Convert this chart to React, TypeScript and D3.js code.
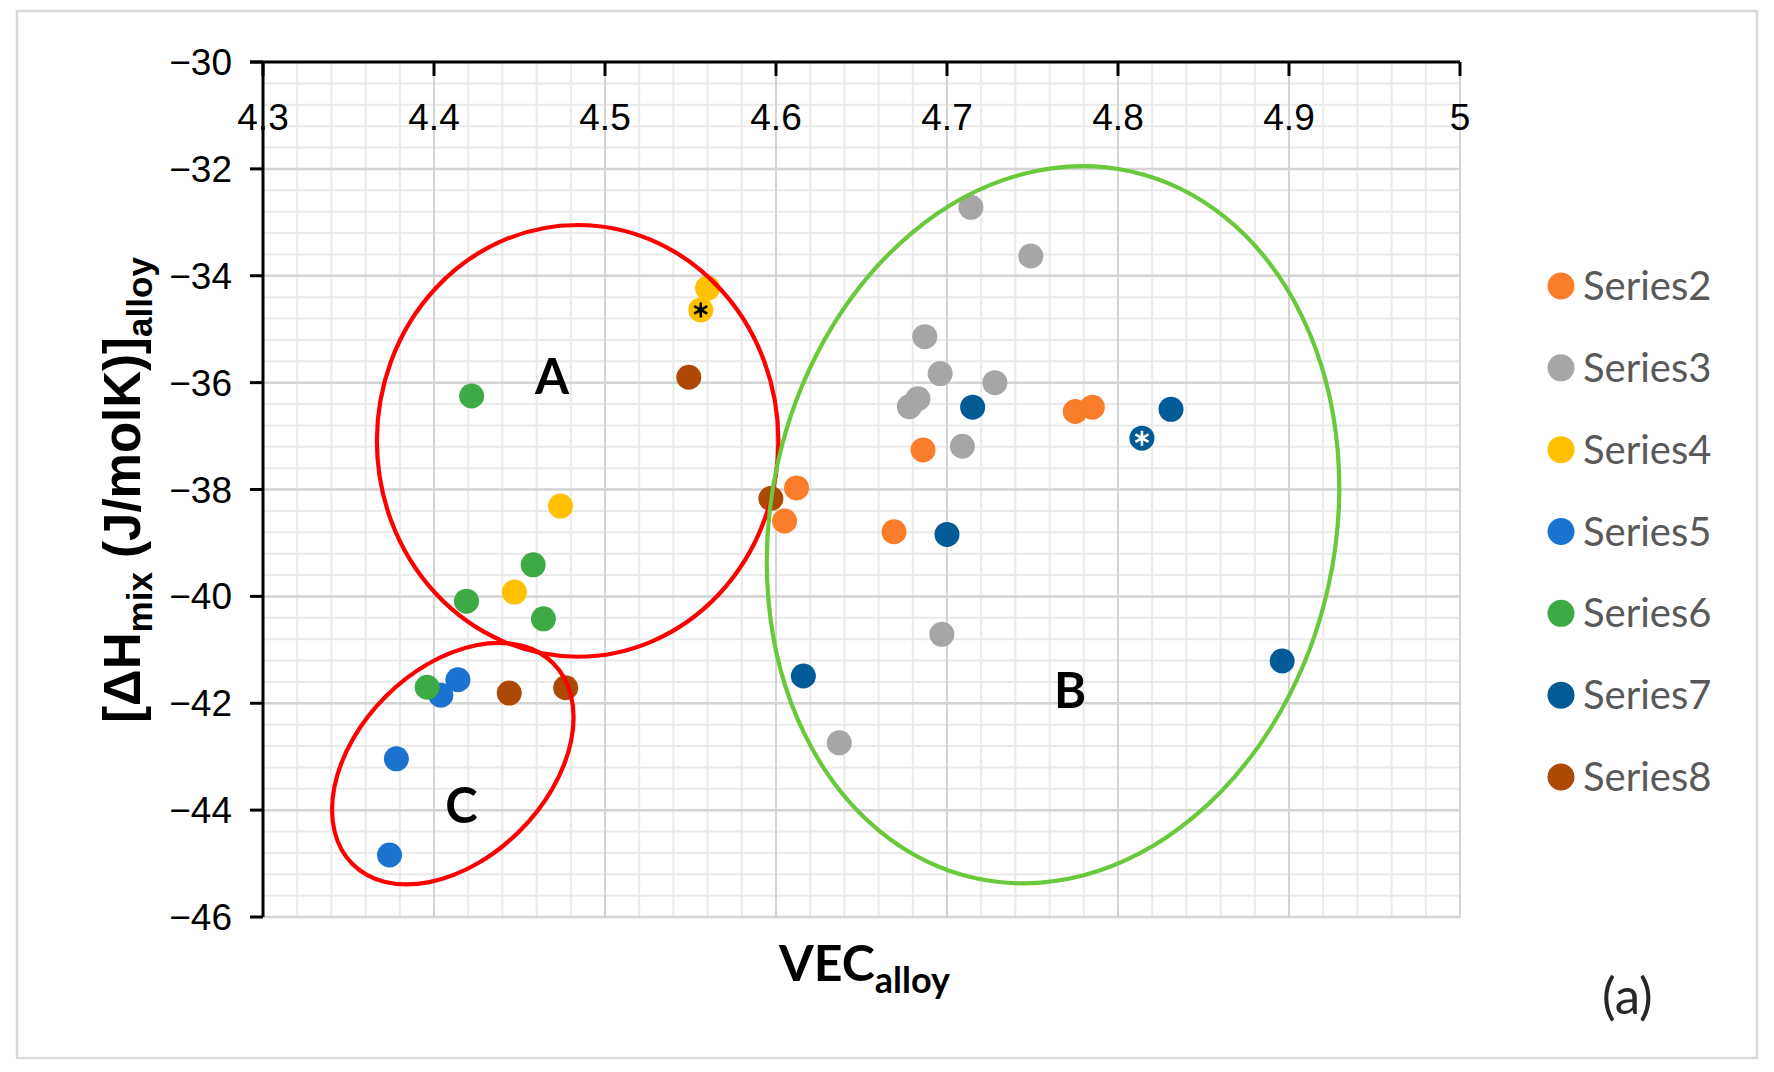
import React from "react";
import * as d3 from "d3";

const WIDTH = 1774;
const HEIGHT = 1072;

// ---- axis ticks ----
const xTickValues = [4.3, 4.4, 4.5, 4.6, 4.7, 4.8, 4.9, 5.0];
const xTickLabels = ["4.3", "4.4", "4.5", "4.6", "4.7", "4.8", "4.9", "5"];
const yTickValues = [-30, -32, -34, -36, -38, -40, -42, -44, -46];
const yTickLabels = ["−30", "−32", "−34", "−36", "−38", "−40", "−42", "−44", "−46"];

// ---- series ----
const seriesNames = ["Series2", "Series3", "Series4", "Series5", "Series6", "Series7", "Series8"];
const seriesColors = ["#FA7D2B", "#A6A6A6", "#FFC000", "#1C72CF", "#3DAA46", "#005B97", "#AC4A05"];

const series2X = [4.612, 4.605, 4.669, 4.686, 4.775, 4.785];
const series2Y = [-37.97, -38.59, -38.79, -37.26, -36.54, -36.46];

const series3X = [4.714, 4.749, 4.687, 4.696, 4.728, 4.678, 4.683, 4.709, 4.697, 4.637];
const series3Y = [-32.72, -33.63, -35.14, -35.83, -36.0, -36.45, -36.3, -37.19, -40.71, -42.74];

const series4X = [4.56, 4.556, 4.474, 4.447];
const series4Y = [-34.23, -34.64, -38.31, -39.92];

const series5X = [4.414, 4.404, 4.378, 4.374];
const series5Y = [-41.56, -41.85, -43.04, -44.84];

const series6X = [4.422, 4.458, 4.419, 4.464, 4.396];
const series6Y = [-36.25, -39.41, -40.09, -40.42, -41.7];

const series7X = [4.715, 4.831, 4.814, 4.7, 4.616, 4.896];
const series7Y = [-36.46, -36.5, -37.04, -38.84, -41.49, -41.21];

const series8X = [4.549, 4.597, 4.444, 4.477];
const series8Y = [-35.9, -38.17, -41.81, -41.71];

const allSeriesX = [series2X, series3X, series4X, series5X, series6X, series7X, series8X];
const allSeriesY = [series2Y, series3Y, series4Y, series5Y, series6Y, series7Y, series8Y];

// asterisk-marked points
const asteriskX = [4.556, 4.814];
const asteriskY = [-34.64, -37.04];
const asteriskColors = ["#000000", "#FFFFFF"];

// region ellipses (centre / semi-axes in data units, angle in degrees)
const regionNames = ["A", "B", "C"];
const regionCX = [4.484, 4.762, 4.411];
const regionCY = [-37.09, -38.66, -43.13];
const regionRX = [0.1174, 0.165, 0.083];
const regionRY = [4.04, 6.77, 1.777];
const regionAngle = [0, 12.3, -45];
const regionColors = ["#FF0000", "#69C93A", "#FF0000"];
const regionLabelX = [4.469, 4.772, 4.416];
const regionLabelY = [-35.89, -41.77, -43.92];

export default function App() {
  const x = d3.scaleLinear().domain([4.3, 5.0]).range([263, 1460]);
  const y = d3.scaleLinear().domain([-46, -30]).range([917, 62]);

  const xMinor = d3.range(0, 36).map((i) => 4.3 + i * 0.02);
  const yMinor = d3.range(0, 41).map((i) => -46 + i * 0.4);

  const [x0, x1] = x.range();
  const [y0, y1] = y.range(); // y0 bottom, y1 top

  const latin = "Lato, 'Open Sans', sans-serif";
  const tickFont = "'Liberation Sans', Arial, sans-serif";

  const asteriskPath = (cx: number, cy: number, r: number) => {
    const angles = [90, 30, 150];
    return angles
      .map((a) => {
        const rad = (a * Math.PI) / 180;
        const dx = Math.cos(rad) * r;
        const dy = Math.sin(rad) * r;
        return `M${cx - dx},${cy - dy}L${cx + dx},${cy + dy}`;
      })
      .join("");
  };

  const legendY = d3.scaleLinear().domain([0, 6]).range([286, 777]);

  return (
    <svg
      width={WIDTH}
      height={HEIGHT}
      style={{ position: "absolute", left: 0, top: 0, background: "#fff" }}
      xmlns="http://www.w3.org/2000/svg"
    >
      <rect x={0} y={0} width={WIDTH} height={HEIGHT} fill="#fff" />
      <rect x={17} y={11} width={1740} height={1047} fill="#fff" stroke="#D9D9D9" strokeWidth={2.5} />

      {/* minor grid */}
      {xMinor.map((v, i) => (
        <line key={"xm" + i} x1={x(v)} x2={x(v)} y1={y1} y2={y0} stroke="#EAEAEA" strokeWidth={2} />
      ))}
      {yMinor.map((v, i) => (
        <line key={"ym" + i} x1={x0} x2={x1} y1={y(v)} y2={y(v)} stroke="#EAEAEA" strokeWidth={2} />
      ))}
      {/* major grid */}
      {xTickValues.map((v, i) => (
        <line key={"xM" + i} x1={x(v)} x2={x(v)} y1={y1} y2={y0} stroke="#D4D4D4" strokeWidth={2} />
      ))}
      {yTickValues.map((v, i) => (
        <line key={"yM" + i} x1={x0} x2={x1} y1={y(v)} y2={y(v)} stroke="#D4D4D4" strokeWidth={2.5} />
      ))}

      {/* axes */}
      <line x1={x0 - 13} x2={x1} y1={y1} y2={y1} stroke="#000" strokeWidth={3} />
      <line x1={x0} x2={x0} y1={y1} y2={y0} stroke="#000" strokeWidth={3} />
      {xTickValues.map((v, i) => (
        <line key={"xt" + i} x1={x(v)} x2={x(v)} y1={y1} y2={y1 + 14} stroke="#000" strokeWidth={3} />
      ))}
      {yTickValues.map((v, i) => (
        <line key={"yt" + i} x1={x0 - 13} x2={x0} y1={y(v)} y2={y(v)} stroke="#000" strokeWidth={3} />
      ))}
      {xTickValues.map((v, i) => (
        <text key={"xl" + i} x={x(v)} y={130} textAnchor="middle" fontFamily={tickFont} fontSize={37} fill="#000">
          {xTickLabels[i]}
        </text>
      ))}
      {yTickValues.map((v, i) => (
        <text key={"yl" + i} x={232} y={y(v) + 13} textAnchor="end" fontFamily={tickFont} fontSize={37} fill="#000">
          {yTickLabels[i]}
        </text>
      ))}

      {/* points */}
      {allSeriesX.map((xs, si) =>
        xs.map((v, i) => (
          <circle key={`p${si}-${i}`} cx={x(v)} cy={y(allSeriesY[si][i])} r={12.5} fill={seriesColors[si]} />
        ))
      )}
      {asteriskX.map((v, i) => (
        <path
          key={"ast" + i}
          d={asteriskPath(x(v), y(asteriskY[i]), 7.5)}
          stroke={asteriskColors[i]}
          strokeWidth={2.6}
          strokeLinecap="butt"
        />
      ))}

      {/* region ellipses */}
      {regionNames.map((n, i) => {
        const cx = x(regionCX[i]);
        const cy = y(regionCY[i]);
        const rx = x(regionCX[i] + regionRX[i]) - cx;
        const ry = cy - y(regionCY[i] + regionRY[i]);
        return (
          <ellipse
            key={"el" + n}
            cx={cx}
            cy={cy}
            rx={rx}
            ry={ry}
            fill="none"
            stroke={regionColors[i]}
            strokeWidth={4.2}
            transform={`rotate(${regionAngle[i]} ${cx} ${cy})`}
          />
        );
      })}
      {regionNames.map((n, i) => (
        <text
          key={"rl" + n}
          x={x(regionLabelX[i])}
          y={y(regionLabelY[i]) + 17.5}
          textAnchor="middle"
          fontFamily={latin}
          fontWeight="bold"
          fontSize={49}
          fill="#000"
        >
          {n}
        </text>
      ))}

      {/* y axis title */}
      <text
        transform="translate(140,490) rotate(-90)"
        textAnchor="middle"
        fontFamily="'Liberation Sans', Arial, sans-serif"
        fontWeight="bold"
        fontSize={51}
        fill="#000"
      >
        <tspan>[ΔH</tspan>
        <tspan fontSize={35} dy={12}>mix</tspan>
        <tspan dy={-12}> (J/molK)]</tspan>
        <tspan fontSize={35} dy={12}>alloy</tspan>
      </text>

      {/* x axis title */}
      <text x={779} y={981} fontFamily={latin} fontWeight="bold" fontSize={50} fill="#000">
        <tspan>VEC</tspan>
        <tspan fontSize={36} dy={12}>alloy</tspan>
      </text>

      <text x={1602} y={1014} fontFamily={latin} fontSize={51} fill="#262626">
        (a)
      </text>

      {/* legend */}
      {seriesNames.map((n, i) => (
        <g key={"lg" + n}>
          <circle cx={1561} cy={legendY(i)} r={13.5} fill={seriesColors[i]} />
          <text x={1583} y={legendY(i) + 14} fontFamily={latin} fontSize={40} fill="#595959">
            {n}
          </text>
        </g>
      ))}
    </svg>
  );
}
